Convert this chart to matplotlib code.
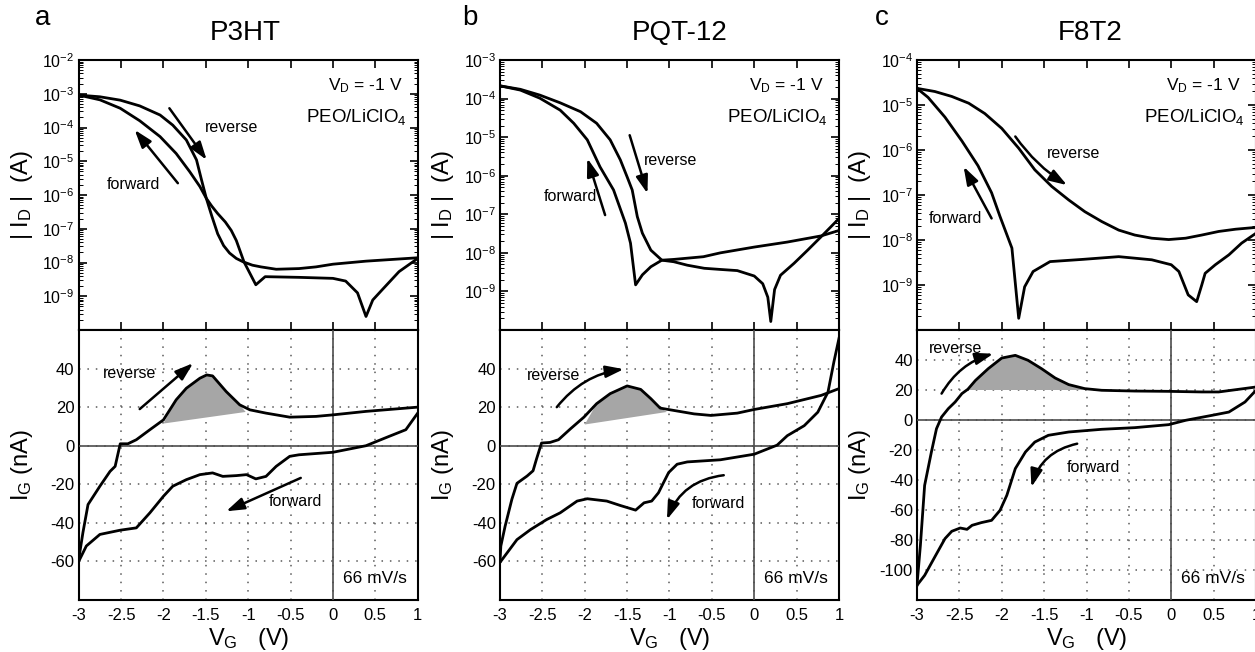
import matplotlib
matplotlib.use('Agg')

import numpy as np
import matplotlib.pyplot as plt
from matplotlib.ticker import LogLocator, NullFormatter

plt.rcParams['font.family'] = ['Liberation Sans', 'DejaVu Sans']
plt.rcParams['mathtext.fontset'] = 'custom'
plt.rcParams['mathtext.rm'] = 'Liberation Sans'
plt.rcParams['mathtext.it'] = 'Liberation Sans:italic'
plt.rcParams['axes.unicode_minus'] = False

# ---------------- data ----------------
materials = ['P3HT', 'PQT-12', 'F8T2']
letters = ['a', 'b', 'c']
vg_ticks = [-3, -2.5, -2, -1.5, -1, -0.5, 0, 0.5, 1]
vg_labels = ['-3', '-2.5', '-2', '-1.5', '-1', '-0.5', '0', '0.5', '1']

# drain current, log10(|I_D| / A)
a_id_rev_v = [-3.0, -2.75, -2.51, -2.28, -2.04, -1.89, -1.73, -1.61, -1.55, -1.494, -1.43, -1.36, -1.29,
              -1.22, -1.14, -1.06, -0.95, -0.85, -0.67, -0.4, -0.2, 0.0, 0.39, 1.0]
a_id_rev = [-3.04, -3.09, -3.19, -3.36, -3.63, -3.93, -4.37, -4.96, -5.56, -6.10, -6.62, -7.15, -7.50,
            -7.72, -7.88, -7.98, -8.08, -8.13, -8.20, -8.18, -8.13, -8.05, -7.96, -7.86]
a_id_fwd_v = [1.0, 0.78, 0.58, 0.47, 0.39, 0.29, 0.15, 0.0, -0.4, -0.8, -0.91, -1.05, -1.09, -1.14, -1.20,
              -1.27, -1.36, -1.43, -1.494, -1.57, -1.69, -1.85, -2.04, -2.28, -2.51, -2.75, -3.0]
a_id_fwd = [-7.88, -8.27, -8.81, -9.11, -9.60, -8.90, -8.55, -8.47, -8.44, -8.42, -8.66, -7.98, -7.70, -7.35, -7.05,
            -6.80, -6.55, -6.33, -6.10, -5.75, -5.31, -4.77, -4.27, -3.80, -3.43, -3.18, -3.04]

b_id_rev_v = [-3.0, -2.76, -2.53, -2.29, -2.05, -1.86, -1.70, -1.58, -1.50, -1.44, -1.38, -1.32, -1.22,
              -1.09, -0.95, -0.6, -0.4, 0.0, 0.39, 0.79, 1.0]
b_id_rev = [-3.67, -3.76, -3.91, -4.11, -4.34, -4.64, -5.07, -5.59, -6.03, -6.37, -7.06, -7.49, -7.93,
            -8.19, -8.17, -8.10, -8.00, -7.85, -7.72, -7.56, -7.42]
b_id_fwd_v = [1.0, 0.79, 0.63, 0.47, 0.31, 0.24, 0.195, 0.16, 0.1, 0.0, -0.2, -0.4, -0.59, -0.79, -0.95,
              -1.09, -1.22, -1.32, -1.40, -1.46, -1.52, -1.66, -1.82, -1.97, -2.13, -2.29, -2.53, -2.76, -3.0]
b_id_fwd = [-7.11, -7.58, -7.93, -8.27, -8.58, -8.95, -9.78, -9.15, -8.80, -8.60, -8.46, -8.43, -8.40, -8.32, -8.23,
            -8.19, -8.36, -8.57, -8.83, -7.75, -7.23, -6.37, -5.77, -5.07, -4.64, -4.30, -3.99, -3.78, -3.67]

c_id_rev_v = [-3.0, -2.79, -2.59, -2.39, -2.2, -2.0, -1.8, -1.61, -1.41, -1.21, -1.02, -0.82, -0.62,
              -0.43, -0.23, -0.03, 0.17, 0.36, 0.56, 0.76, 1.0]
c_id_rev = [-4.63, -4.70, -4.81, -4.96, -5.19, -5.52, -5.96, -6.44, -6.81, -7.11, -7.37, -7.59, -7.78,
            -7.89, -7.96, -7.99, -7.96, -7.89, -7.81, -7.76, -7.72]
c_id_fwd_v = [1.0, 0.83, 0.68, 0.52, 0.40, 0.36, 0.30, 0.20, 0.09, 0.0, -0.23, -0.62, -1.04, -1.43,
              -1.63, -1.73, -1.80, -1.88, -2.02, -2.12, -2.28, -2.47, -2.67, -2.87, -3.0]
c_id_fwd = [-7.85, -8.07, -8.33, -8.55, -8.74, -9.0, -9.37, -9.22, -8.70, -8.55, -8.44, -8.37, -8.43, -8.48,
            -8.70, -9.04, -9.74, -8.18, -7.48, -6.95, -6.35, -5.80, -5.27, -4.83, -4.63]

# gate current, nA
a_ig_rev_v = [-3.0, -2.95, -2.89, -2.75, -2.63, -2.57, -2.51, -2.42, -2.32, -2.16, -2.0, -1.85, -1.73,
              -1.57, -1.49, -1.42, -1.26, -1.10, -0.98, -0.79, -0.51, -0.2, 0.0, 0.39, 1.0]
a_ig_rev = [-59, -45, -30.5, -21, -13.3, -10.7, 1, 1, 3.1, 8.3, 13.4, 23.8, 29.8,
            35, 36.7, 36.2, 28.1, 21.2, 18.6, 16.9, 14.8, 15.2, 16.0, 17.8, 20.0]
a_ig_fwd_v = [1.0, 0.86, 0.66, 0.39, 0.0, -0.4, -0.51, -0.67, -0.79, -0.91, -1.02, -1.14, -1.30,
              -1.42, -1.57, -1.73, -1.89, -2.0, -2.16, -2.32, -2.51, -2.75, -2.91, -3.0]
a_ig_fwd = [16.9, 8.3, 4.8, 0, -3.4, -4.7, -5.5, -10.7, -15.9, -17.2, -15, -15.5, -15.9,
            -14.1, -15, -17.6, -21, -26.2, -34.8, -42.6, -43.8, -46, -52, -60]

b_ig_rev_v = [-3.0, -2.99, -2.94, -2.86, -2.80, -2.68, -2.61, -2.57, -2.51, -2.41, -2.31, -2.17, -2.01,
              -1.86, -1.70, -1.50, -1.34, -1.22, -1.11, -0.95, -0.71, -0.51, -0.20, 0.0, 0.39, 0.79, 1.0]
b_ig_rev = [-60, -52, -41.8, -27.8, -19.5, -15.7, -13, -7, 1.4, 1.7, 3.1, 8.7, 14.8,
            21.8, 27, 31, 29.2, 24.4, 19.5, 18.3, 16.5, 15.7, 16.9, 18.8, 21.8, 26.1, 29.6]
b_ig_fwd_v = [1.0, 0.94, 0.87, 0.75, 0.59, 0.39, 0.27, 0.0, -0.40, -0.79, -0.91, -1.01, -1.07, -1.13,
              -1.21, -1.30, -1.40, -1.58, -1.74, -1.97, -2.09, -2.29, -2.45, -2.64, -2.80, -3.0]
b_ig_fwd = [55.7, 43.5, 27.8, 17.4, 10.4, 5.2, 0.3, -4.4, -7.3, -8.4, -9.6, -13.9, -19.1, -24.4,
            -28.7, -29.6, -33.4, -31, -28.7, -27.5, -28.7, -34.8, -38.3, -43.5, -48.7, -60.5]

c_ig_rev_v = [-3.0, -2.96, -2.91, -2.83, -2.77, -2.71, -2.63, -2.55, -2.47, -2.40, -2.31, -2.16, -2.0,
              -1.84, -1.69, -1.53, -1.37, -1.21, -1.02, -0.82, -0.43, -0.03, 0.36, 0.56, 0.76, 1.0]
c_ig_rev = [-110, -83.6, -43.6, -21.3, -5.8, 2.0, 7.6, 12, 17.6, 20.5, 26.4, 34.2, 41.3,
            43.1, 39.8, 34.2, 28, 23.6, 20.9, 19.8, 19.3, 19.1, 18.7, 18.7, 20.2, 22]
c_ig_fwd_v = [1.0, 0.87, 0.68, 0.48, 0.17, -0.03, -0.43, -0.82, -1.21, -1.45, -1.61, -1.72, -1.84,
              -1.94, -2.02, -2.12, -2.24, -2.35, -2.41, -2.49, -2.59, -2.67, -2.79, -2.91, -3.0]
c_ig_fwd = [19.8, 12, 5.3, 3.1, -0.2, -3.1, -5.1, -6.2, -8.0, -10.2, -14.7, -21.3, -32.4,
            -50.2, -60.2, -66.9, -68.4, -70.2, -72.9, -72, -74.2, -79.1, -91.3, -103.6, -110.2]

# shaded peak: chord from (v0, i0) to (v1, i1) under the reverse curve
a_shade = ([-2.0, -1.03], [11.5, 17.5])
b_shade = ([-2.0, -1.03], [11.0, 17.5])
c_shade = ([-2.40, -1.02], [20.0, 20.0])

id_top_exp = [-2, -3, -4]
ig_limits = [(-80, 60), (-80, 60), (-120, 60)]
ig_ticks = [[-60, -40, -20, 0, 20, 40], [-60, -40, -20, 0, 20, 40],
            [-100, -80, -60, -40, -20, 0, 20, 40]]

id_data = [(a_id_rev_v, a_id_rev, a_id_fwd_v, a_id_fwd),
           (b_id_rev_v, b_id_rev, b_id_fwd_v, b_id_fwd),
           (c_id_rev_v, c_id_rev, c_id_fwd_v, c_id_fwd)]
ig_data = [(a_ig_rev_v, a_ig_rev, a_ig_fwd_v, a_ig_fwd, a_shade),
           (b_ig_rev_v, b_ig_rev, b_ig_fwd_v, b_ig_fwd, b_shade),
           (c_ig_rev_v, c_ig_rev, c_ig_fwd_v, c_ig_fwd, c_shade)]

W, H = 1255, 652
lefts = [78.7, 500, 917]
aw = 339
ARROW = dict(arrowstyle='-|>,head_length=0.9,head_width=0.3', color='black',
             lw=1.8, shrinkA=0, shrinkB=0, mutation_scale=12)
NOTE = 11.5


def arrow(ax, tail, tip, rad=0.0):
    props = dict(ARROW)
    props['connectionstyle'] = 'arc3,rad=%g' % rad
    ax.annotate('', xy=tip, xytext=tail, arrowprops=props)


def draw_id(ax, data, top_exp):
    rev_v, rev, fwd_v, fwd = data
    ax.plot(rev_v, 10**np.array(rev), color='black', lw=2)
    ax.plot(fwd_v, 10**np.array(fwd), color='black', lw=2)
    ax.set_yscale('log')
    ax.set_xlim(-3, 1)
    ax.set_ylim(1e-10, 10.0**top_exp)
    ax.set_yticks([10.0**e for e in range(-9, top_exp + 1)])
    ax.yaxis.set_minor_locator(LogLocator(base=10, subs=np.arange(2, 10) * 1.0, numticks=30))
    ax.yaxis.set_minor_formatter(NullFormatter())
    ax.set_xticks(vg_ticks)
    ax.set_xticklabels([])
    ax.tick_params(which='both', direction='in', top=True, right=True, labelsize=11.5, pad=3)
    ax.tick_params(which='major', length=6, width=1.2)
    ax.tick_params(which='minor', length=3, width=0.7)
    ax.set_ylabel(r'| I$_\mathregular{D}$ |  (A)', fontsize=17)
    ax.yaxis.set_label_coords(-0.13, 0.5)
    ax.text(0.955, 0.905, r'V$_\mathregular{D}$ = -1 V', transform=ax.transAxes,
            ha='right', va='center', fontsize=12.5)
    ax.text(0.968, 0.79, r'PEO/LiClO$_\mathregular{4}$', transform=ax.transAxes,
            ha='right', va='center', fontsize=13.5)
    for s in ax.spines.values():
        s.set_linewidth(1.5)


def draw_ig(ax, data, lims, ticks):
    rev_v, rev, fwd_v, fwd, shade = data
    (v0, v1), (i0, i1) = shade
    poly_v = [v0] + [v for v in rev_v if v0 < v < v1] + [v1]
    poly_i = [i0] + [i for v, i in zip(rev_v, rev) if v0 < v < v1] + [i1]
    ax.fill(poly_v, poly_i, color='#a6a6a6', lw=0, zorder=2)
    ax.plot(rev_v, rev, color='black', lw=2, zorder=4)
    ax.plot(fwd_v, fwd, color='black', lw=2, zorder=4)
    ax.axhline(0, color='0.3', lw=1.2, zorder=3)
    ax.axvline(0, color='0.3', lw=1.2, zorder=3)
    ax.set_xlim(-3, 1)
    ax.set_ylim(*lims)
    ax.set_xticks(vg_ticks)
    ax.set_xticklabels(vg_labels)
    ax.set_yticks(ticks)
    ax.grid(True, ls=(0, (1, 4.5)), color='0.35', lw=1.1, zorder=1)
    ax.tick_params(length=0, labelsize=12)
    ax.tick_params(axis='x', pad=6)
    ax.tick_params(axis='y', pad=3)
    ax.set_ylabel(r'I$_\mathregular{G}$ (nA)', fontsize=17)
    ax.yaxis.set_label_coords(-0.13, 0.5)
    ax.set_xlabel(r'V$_\mathregular{G}$   (V)', fontsize=17)
    ax.xaxis.set_label_coords(0.5, -0.095)
    ax.text(0.968, 0.08, '66 mV/s', transform=ax.transAxes, ha='right', va='center',
            fontsize=12.5)
    for s in ax.spines.values():
        s.set_linewidth(1.5)


fig = plt.figure(figsize=(W / 100, H / 100), dpi=100)
tops, bots = [], []
for k in range(3):
    x0 = lefts[k] / W
    top = fig.add_axes([x0, 1 - 330 / H, aw / W, 270 / H])
    bot = fig.add_axes([x0, 1 - 600 / H, aw / W, 270 / H])
    draw_id(top, id_data[k], id_top_exp[k])
    draw_ig(bot, ig_data[k], ig_limits[k], ig_ticks[k])
    tops.append(top)
    bots.append(bot)

title_x = [245, 680, 1090]
letter_x = [43, 470, 882]
for k in range(3):
    fig.text(title_x[k] / W, 1 - 33 / H, materials[k], ha='center', va='center', fontsize=20)
    fig.text(letter_x[k] / W, 1 - 18 / H, letters[k], ha='center', va='center', fontsize=20)

# annotations, panel a
ax = tops[0]
arrow(ax, (-1.93, 10**-3.43), (-1.49, 10**-4.96))
arrow(ax, (-1.83, 10**-5.65), (-2.34, 10**-4.07))
ax.text(-1.20, 10**-4.0, 'reverse', ha='center', va='center', fontsize=NOTE)
ax.text(-2.36, 10**-5.70, 'forward', ha='center', va='center', fontsize=NOTE)
ax = bots[0]
arrow(ax, (-2.28, 19), (-1.65, 42.8))
arrow(ax, (-0.38, -16.7), (-1.26, -34))
ax.text(-2.40, 37.6, 'reverse', ha='center', va='center', fontsize=NOTE, zorder=5)
ax.text(-0.44, -29, 'forward', ha='center', va='center', fontsize=NOTE, zorder=5)

# panel b
ax = tops[1]
arrow(ax, (-1.47, 10**-4.95), (-1.26, 10**-6.46))
arrow(ax, (-1.76, 10**-7.02), (-1.97, 10**-5.55))
ax.text(-0.99, 10**-5.61, 'reverse', ha='center', va='center', fontsize=NOTE)
ax.text(-2.17, 10**-6.54, 'forward', ha='center', va='center', fontsize=NOTE)
ax = bots[1]
arrow(ax, (-2.33, 20), (-1.54, 39.7), rad=-0.2)
arrow(ax, (-0.36, -15.3), (-1.03, -38.3), rad=0.3)
ax.text(-2.37, 36.5, 'reverse', ha='center', va='center', fontsize=NOTE, zorder=5)
ax.text(-0.42, -30, 'forward', ha='center', va='center', fontsize=NOTE, zorder=5)

# panel c
ax = tops[2]
arrow(ax, (-1.84, 10**-5.70), (-1.23, 10**-6.78), rad=0.1)
arrow(ax, (-2.12, 10**-7.52), (-2.45, 10**-6.37))
ax.text(-1.15, 10**-6.07, 'reverse', ha='center', va='center', fontsize=NOTE)
ax.text(-2.55, 10**-7.52, 'forward', ha='center', va='center', fontsize=NOTE)
ax = bots[2]
arrow(ax, (-2.71, 17.6), (-2.10, 44.2), rad=-0.2)
arrow(ax, (-1.11, -15.8), (-1.65, -44.7), rad=0.3)
ax.text(-2.55, 47.6, 'reverse', ha='center', va='center', fontsize=NOTE, zorder=5)
ax.text(-0.92, -32, 'forward', ha='center', va='center', fontsize=NOTE, zorder=5)

fig.savefig('out.png', dpi=100)
